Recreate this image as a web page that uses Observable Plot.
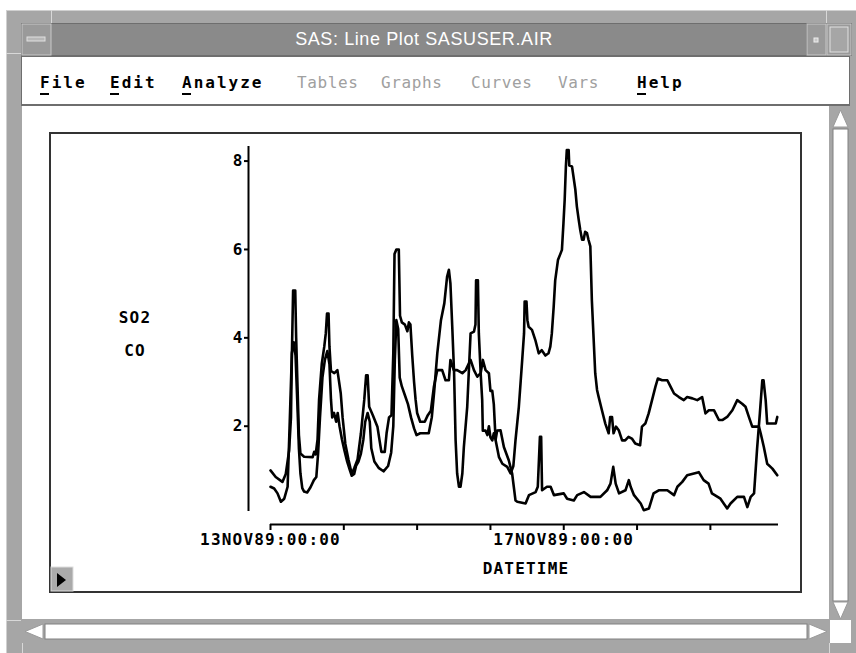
<!DOCTYPE html>
<html><head><meta charset="utf-8">
<script src="https://cdn.jsdelivr.net/npm/d3@7"></script>
<script src="https://cdn.jsdelivr.net/npm/@observablehq/plot@0.6"></script>
<style>
html,body{margin:0;padding:0;}
body{width:856px;height:653px;overflow:hidden;background:#fff;position:relative;}
#chrome{position:absolute;left:0;top:0;}
#plot{position:absolute;left:50px;top:133px;}
#plot svg text{letter-spacing:1.2px;}
.mono{font-family:"DejaVu Sans Mono",monospace;font-weight:bold;}
</style></head><body>
<script>
// ---- data (hours after 13NOV89:00:00, values) ----
const startDay = "1989-11-13";
const endHour = 166.3;
const coHours = [0,1.7,3.9,5.0,6.1,6.7,7.0,7.4,8.1,8.4,8.8,9.3,9.8,11,13.8,14.3,14.8,15.4,15.9,16.8,17.6,18.1,18.5,19.0,19.3,19.8,20.9,21.9,23.0,23.6,24.5,25.5,26.6,27.4,28.5,29.6,30.7,31.3,31.8,32.3,33.5,35.0,35.7,36.3,37.4,38.0,38.8,39.6,40.2,40.6,41.2,42.0,42.4,43.0,44.0,44.8,45.3,45.8,46.4,47.0,47.5,48.0,49.0,50.5,51.5,52.5,53.5,54.6,56.2,57.3,58.4,58.9,60.0,61.1,62.8,63.9,65.5,66.6,67.7,68.8,69.5,70.4,71.5,72.0,72.6,73.1,73.7,74.8,75.9,77.5,78.6,79.5,80.2,81.3,82.4,83.0,83.2,83.8,84.1,84.5,85.6,86.7,87.8,88.8,90,91,91.6,92.1,92.7,93.2,94.1,94.9,95.4,95.9,96.3,96.7,97.0,97.6,97.8,98.7,99.8,100.3,100.9,101.4,102,102.5,103.0,103.6,104.1,104.7,105.2,105.8,106.3,106.9,107.4,108.5,109.6,110.7,111.2,111.8,112.3,113.1,114,115.1,116.1,117.2,118.3,119.4,121,121.6,122.7,123.8,124.9,126,126.8,128.2,129.9,131,132.1,133.7,135.3,136.4,138.1,139.7,141.3,142.4,143.5,145.2,146.8,147.9,149.5,151.2,152.8,154.4,155.5,156.6,157.7,158.3,159.9,160.5,161.5,162.6,164.3,165.9];
const coValues = [1.0,0.85,0.74,0.92,1.45,2.2,3.6,5.07,5.07,4.0,3.0,1.8,1.38,1.31,1.3,1.42,1.36,1.7,2.6,3.42,3.8,4.1,4.55,4.55,3.8,3.25,3.2,3.27,2.74,2.2,1.6,1.25,0.92,1.05,1.25,1.84,2.6,3.15,3.15,2.44,2.25,1.99,1.68,1.42,1.42,1.84,2.2,2.25,3.65,5.9,6.0,6.0,4.5,4.35,4.3,4.15,4.35,4.3,3.6,3.0,2.6,2.3,2.1,2.1,2.25,2.35,2.9,3.27,3.27,3.04,3.04,3.5,3.27,3.27,3.2,3.27,3.5,3.27,3.12,3.2,3.5,3.27,3.2,2.8,2.8,2.5,1.68,1.3,1.15,1.08,0.93,1.1,1.68,2.44,3.5,4.1,4.82,4.82,4.4,4.25,4.18,3.95,3.65,3.72,3.6,3.65,3.8,4.1,4.7,5.3,5.76,5.9,5.99,6.59,7.12,7.88,8.25,8.25,7.9,7.88,7.35,6.97,6.67,6.44,6.22,6.22,6.4,6.37,6.22,6.07,4.85,3.95,3.2,2.82,2.67,2.36,2.06,1.84,2.21,2.21,1.84,1.99,1.91,1.68,1.68,1.76,1.72,1.61,1.57,1.99,2.06,2.29,2.59,2.89,3.08,3.04,3.04,2.89,2.74,2.66,2.59,2.66,2.63,2.59,2.66,2.29,2.36,2.36,2.14,2.14,2.21,2.36,2.59,2.51,2.44,2.21,1.99,1.99,1.99,1.83,1.53,1.15,1.04,0.89];
const so2Hours = [0,1.2,2.3,3.4,4.5,5.6,6.3,7.0,7.6,8.2,8.8,9.3,9.8,10.4,11.0,12.0,13.1,14.2,15.0,15.6,16.2,17.0,17.8,18.6,19.3,19.8,20.2,20.8,21.5,22.0,22.6,23.4,24.2,25.1,26.0,26.6,27.4,28.0,28.8,29.6,30.4,31.0,31.8,32.5,33.0,34.0,35.5,37.0,38.5,39.5,40.2,40.7,41.2,41.8,42.3,43.0,44.0,45.0,46.0,47.0,47.8,49.0,50.5,51.8,52.8,53.6,54.6,55.8,56.9,57.8,58.4,58.9,59.5,60.1,60.6,61.1,61.7,62.2,62.8,63.3,64.4,64.9,65.5,66.6,67.1,67.3,67.9,68.2,68.8,69.3,69.5,70.4,71.0,71.5,72.0,72.6,73.1,73.7,74.2,75.3,76.4,78.0,79.1,80.2,80.8,83.5,84.6,86.8,87.5,88.2,88.6,88.9,90.5,91.7,92.8,96,97.1,99.3,100.4,102.6,104.8,108,110.2,111.3,112.2,113,114.1,116.2,117.3,117.9,119,121.2,122.2,123.9,125.4,127.1,129.9,132.1,133.2,134.8,136.4,140.2,141.8,143.4,144.5,147.3,149.5,150.6,152.8,155,156.1,157.2,158.3,159.3,160.2,161.0,161.4,162.1,162.6,164.3,165.4,165.9];
const so2Values = [0.63,0.59,0.48,0.29,0.36,0.63,2.1,3.65,3.9,3.6,2.5,1.5,0.93,0.6,0.52,0.5,0.62,0.78,0.85,1.4,2.2,3.1,3.5,3.7,3.4,2.6,2.2,2.3,2.1,2.3,2.0,1.7,1.45,1.2,1.0,0.88,0.92,1.1,1.2,1.38,1.7,2.1,2.3,2.1,1.5,1.2,1.05,0.98,1.1,1.4,2.0,3.5,4.4,4.2,3.1,2.9,2.7,2.5,2.2,1.95,1.8,1.84,1.84,1.84,2.2,2.8,3.65,4.4,4.78,5.38,5.54,5.23,4.25,3.2,1.68,0.93,0.63,0.63,0.93,1.53,2.44,3.2,4.1,4.14,4.3,5.3,5.3,4.1,3.2,2.6,1.9,1.9,1.8,2.0,1.75,1.68,1.84,1.7,1.9,1.91,1.53,1.23,0.93,0.32,0.29,0.25,0.44,0.51,0.63,1.76,1.76,0.55,0.63,0.63,0.44,0.48,0.36,0.32,0.44,0.51,0.4,0.4,0.55,0.7,1.08,0.7,0.48,0.55,0.78,0.63,0.44,0.25,0.1,0.14,0.48,0.55,0.55,0.44,0.63,0.74,0.89,0.96,0.78,0.7,0.48,0.36,0.14,0.25,0.4,0.4,0.17,0.4,0.48,1.5,2.29,3.04,3.04,2.59,2.06,2.06,2.06,2.21];
const yTicks = [2,4,6,8];
const labelledDays = [13,17];
const xLabel = "DATETIME";
const seriesLabels = ["SO2","CO"];
const menuItems = [["File",true,40],["Edit",true,110],["Analyze",true,182],["Tables",false,297],["Graphs",false,381],["Curves",false,471],["Vars",false,558],["Help",true,637]];
const windowTitle = "SAS: Line Plot SASUSER.AIR";
</script>

<svg id="chrome" width="856" height="653" xmlns="http://www.w3.org/2000/svg">
  <rect x="6" y="10" width="850" height="643" fill="#a6a6a6"/>
  <line x1="6.5" y1="10" x2="6.5" y2="653" stroke="#d0d0d0"/>
  <line x1="6" y1="10.5" x2="856" y2="10.5" stroke="#d0d0d0"/>
  <line x1="51.5" y1="10" x2="51.5" y2="24" stroke="#d8d8d8"/>
  <line x1="6" y1="53.5" x2="21" y2="53.5" stroke="#d8d8d8"/>
  <line x1="826.5" y1="10" x2="826.5" y2="24" stroke="#d8d8d8"/>
  <line x1="6" y1="620.5" x2="21" y2="620.5" stroke="#d8d8d8"/>
  <line x1="22.5" y1="643" x2="22.5" y2="653" stroke="#d8d8d8"/>
  <line x1="829.5" y1="643" x2="829.5" y2="653" stroke="#d8d8d8"/>
  <!-- title bar -->
  <rect x="21" y="23" width="831" height="33" fill="#6e6e6e"/>
  <rect x="22" y="24" width="784" height="31" fill="#8a8a8a"/>
  <rect x="22" y="24" width="29" height="31" fill="#9a9a9a" stroke="#c8c8c8"/>
  <rect x="27" y="37" width="18" height="4" fill="#b8b8b8" stroke="#e0e0e0"/>
  <rect x="807" y="24" width="19" height="31" fill="#9a9a9a" stroke="#c8c8c8"/>
  <rect x="814" y="38" width="4" height="4" fill="#c8c8c8" stroke="#eee"/>
  <rect x="827" y="24" width="24" height="31" fill="#9a9a9a" stroke="#c8c8c8"/>
  <rect x="830" y="27" width="18" height="25" fill="#a6a6a6" stroke="#e0e0e0"/>
  <text id="title" x="424" y="45" text-anchor="middle" fill="#fff" font-family="Liberation Sans, Arial, sans-serif" font-size="18" letter-spacing="0.6"></text>
  <!-- menu bar -->
  <rect x="21" y="56" width="829" height="50" fill="#6e6e6e"/>
  <rect x="22" y="57" width="827" height="47" fill="#fff"/>
  <g id="menu"></g>
  <!-- content -->
  <rect x="22" y="106" width="807" height="513" fill="#fff"/>
  <!-- vertical scrollbar -->
  <rect x="829" y="106" width="22" height="514" fill="#a6a6a6"/>
  <rect x="833" y="129" width="15" height="472" fill="#fff" stroke="#808080"/>
  <polygon points="840.5,110 833,127 848,127" fill="#fff" stroke="#9a9a9a"/>
  <polygon points="840.5,619 833,602 848,602" fill="#fff" stroke="#9a9a9a"/>
  <!-- horizontal scrollbar -->
  <rect x="22" y="619" width="808" height="24" fill="#a6a6a6"/>
  <rect x="45" y="624" width="762" height="15" fill="#fff" stroke="#808080"/>
  <polygon points="25,631.5 43,624 43,639" fill="#fff" stroke="#9a9a9a"/>
  <polygon points="827,631.5 809,624 809,639" fill="#fff" stroke="#9a9a9a"/>
  <rect x="830" y="620" width="21" height="23" fill="#fff"/>
  <!-- plot frame -->
  <rect x="50" y="133" width="751" height="459" fill="#fff" stroke="#333" stroke-width="2"/>
  <rect x="51" y="567" width="22" height="24" fill="#aaa" stroke="#ddd"/>
  <polygon points="57,573 57,587 66,580" fill="#000"/>
  <text id="lab0" class="mono" x="135" y="323" text-anchor="middle" font-size="16" letter-spacing="1.2"></text>
  <text id="lab1" class="mono" x="135" y="356" text-anchor="middle" font-size="16" letter-spacing="1.2"></text>
  <text id="xlab" class="mono" x="526" y="574" text-anchor="middle" font-size="16" letter-spacing="1.2"></text>
</svg>
<div id="plot"></div>
<script>
document.getElementById("title").textContent = windowTitle;
document.getElementById("lab0").textContent = seriesLabels[0];
document.getElementById("lab1").textContent = seriesLabels[1];
document.getElementById("xlab").textContent = xLabel;
const NS = "http://www.w3.org/2000/svg";
const menu = document.getElementById("menu");
for (const [name, enabled, x] of menuItems) {
  const t = document.createElementNS(NS, "text");
  t.setAttribute("x", x); t.setAttribute("y", 88);
  t.setAttribute("font-family", "DejaVu Sans Mono, monospace");
  t.setAttribute("font-size", "16");
  t.setAttribute("letter-spacing", enabled ? "2" : "0.6");
  t.setAttribute("font-weight", enabled ? "bold" : "normal");
  t.setAttribute("fill", enabled ? "#000" : "#a0a0a0");
  t.textContent = name;
  menu.appendChild(t);
  if (enabled) {
    const u = document.createElementNS(NS, "rect");
    u.setAttribute("x", x); u.setAttribute("y", 93);
    u.setAttribute("width", 9); u.setAttribute("height", 2);
    u.setAttribute("fill", "#000");
    menu.appendChild(u);
  }
}

const t0 = new Date(startDay + "T00:00:00Z");
const toDate = h => new Date(t0.getTime() + h * 3600e3);
const tEnd = toDate(endHour);
const co = coHours.map((h, i) => ({date: toDate(h), value: coValues[i], series: "CO"}));
const so2 = so2Hours.map((h, i) => ({date: toDate(h), value: so2Values[i], series: "SO2"}));
const days = d3.utcDay.range(t0, tEnd);
const months = ["JAN","FEB","MAR","APR","MAY","JUN","JUL","AUG","SEP","OCT","NOV","DEC"];
const fmt = d => labelledDays.includes(d.getUTCDate())
  ? String(d.getUTCDate()).padStart(2,"0") + months[d.getUTCMonth()] + String(d.getUTCFullYear()).slice(2) + ":00:00"
  : "";
const yMin = 0.07, yMax = 8.33;

const chart = Plot.plot({
  width: 751, height: 459,
  marginLeft: 220, marginRight: 23, marginTop: 13, marginBottom: 81,
  x: {type: "utc", domain: [t0, tEnd]},
  y: {domain: [yMin, yMax]},
  style: {background: "transparent", fontFamily: "DejaVu Sans Mono, monospace", fontWeight: "bold", color: "#000"},
  marks: [
    Plot.axisY({ticks: yTicks, tickSize: 4, tickPadding: 1, dx: -22, fontSize: 16, label: null, tickFormat: d => String(d), strokeWidth: 2}),
    Plot.ruleX([t0], {y1: yMin, y2: yMax, dx: -22, stroke: "#000", strokeWidth: 2}),
    Plot.axisX({ticks: days, tickSize: 6, tickPadding: 3, dy: 13, fontSize: 16, tickFormat: fmt, label: null, strokeWidth: 2}),
    Plot.ruleY([yMin], {x1: t0, x2: tEnd, dy: 13, stroke: "#000", strokeWidth: 2}),
    Plot.line(so2, {x: "date", y: "value", stroke: "#000", strokeWidth: 2.6}),
    Plot.line(co, {x: "date", y: "value", stroke: "#000", strokeWidth: 2.6})
  ]
});
document.getElementById("plot").appendChild(chart);
</script>
</body></html>
